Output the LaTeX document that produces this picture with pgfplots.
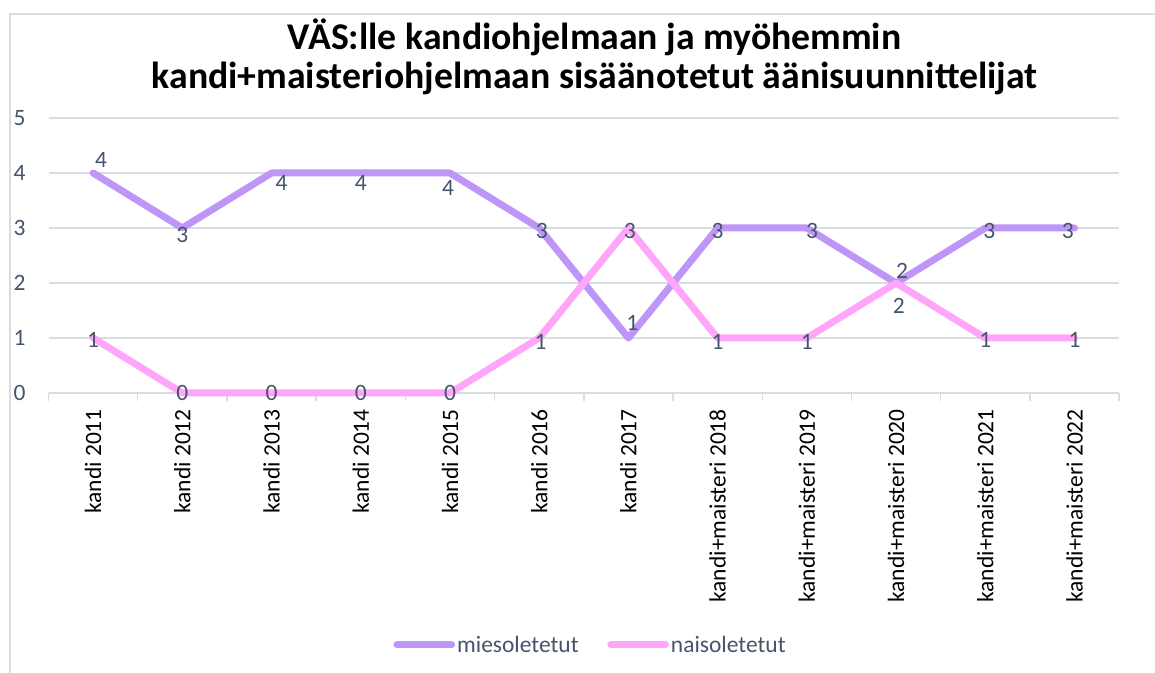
\documentclass[border=0pt]{standalone}
\usepackage{fontspec}
\setmainfont{Carlito}
\usepackage{pgfplots}
\usepackage{pgfplotstable}
\pgfplotsset{compat=1.18}
\definecolor{miesc}{RGB}{190,150,247}
\definecolor{naisc}{RGB}{255,166,250}
\definecolor{gridc}{RGB}{217,220,226}
\definecolor{slate}{RGB}{68,84,106}
\pgfplotstableread{
x y dx dy
0 4 6 10
1 3 0 -5
2 4 7.5 -7.5
3 4 0 -7.5
4 4 -1.5 -11
5 3 2 -2
6 1 3 11
7 3 0 -2
8 3 4 -2
9 2 4.5 9
10 3 3 -2
11 3 -5 -2
}\mies
\pgfplotstableread{
x y dx dy
0 1 0 -1.5
1 0 0 0
2 0 0 0
3 0 0 0
4 0 0 0
5 1 1 -3
6 3 1 -2
7 1 0 -3
8 1 0 -3
9 2 2 -17
10 1 0 -1.5
11 1 0 -1.5
}\nais
\begin{document}
\begin{tikzpicture}
\path[use as bounding box] (0,0) rectangle (866.25pt,504.75pt);
\draw[gridc, line width=1.1pt] (7.5pt,0pt) -- (7.5pt,494.25pt) -- (866.25pt,494.25pt);
\node[anchor=base, font=\fontsize{28.3}{34}\selectfont\bfseries] at (446pt,467.25pt) {VÄS:lle kandiohjelmaan ja myöhemmin};
\node[anchor=base, font=\fontsize{28.3}{34}\selectfont\bfseries] at (446pt,438pt) {kandi+maisteriohjelmaan sisäänotetut äänisuunnittelijat};
\begin{axis}[
  at={(36.4pt,210pt)}, anchor=south west,
  scale only axis, width=802.9pt, height=206.25pt,
  xmin=-0.5, xmax=11.5, ymin=0, ymax=5,
  ytick={0,1,2,3,4,5},
  xtick={0,...,11},
  xticklabels={kandi 2011,kandi 2012,kandi 2013,kandi 2014,kandi 2015,kandi 2016,kandi 2017,kandi+maisteri 2018,kandi+maisteri 2019,kandi+maisteri 2020,kandi+maisteri 2021,kandi+maisteri 2022},
  minor xtick={-0.5,0.5,...,11.5},
  axis x line*=bottom, axis y line*=left,
  y axis line style={draw=none},
  x axis line style={draw=gridc, line width=1.1pt},
  tick align=outside,
  major tick length=0pt, minor tick length=6pt,
  tick style={draw=gridc, line width=1.1pt},
  ytick style={draw=none},
  ymajorgrids, grid style={gridc, line width=1.1pt},
  /pgf/number format/assume math mode=true,
  yticklabel style={font=\fontsize{17.6}{20}\selectfont, text=slate, anchor=east, inner sep=0pt},
  yticklabel shift=17pt,
  xticklabel style={font=\fontsize{17.6}{20}\selectfont, text=black, rotate=90, anchor=east, inner sep=0pt},
  xticklabel shift=12pt,
  clip=false,
  legend columns=2,
  legend style={at={(0.5063,-0.916)}, anchor=center, draw=none, fill=none,
    font=\fontsize{17.6}{20}\selectfont, text=slate,
    nodes={inner sep=1.5pt},
    /tikz/every even column/.append style={column sep=20pt}},
  legend cell align=left,
  legend image code/.code={\draw[#1, line cap=round] (0pt,0pt) -- (41pt,0pt);},
  nodes near coords,
  visualization depends on={\thisrow{dx} \as \dx},
  visualization depends on={\thisrow{dy} \as \dy},
  nodes near coords style={font=\fontsize{17.6}{20}\selectfont, text=slate, anchor=center, inner sep=0pt, xshift=\dx pt, yshift=\dy pt},
]
\addplot[miesc, line width=5.25pt, line join=round, line cap=round, mark=none] table[x=x,y=y] {\mies};
\addlegendentry{miesoletetut}
\addplot[naisc, line width=5.25pt, line join=round, line cap=round, mark=none] table[x=x,y=y] {\nais};
\addlegendentry{naisoletetut}
\end{axis}
\end{tikzpicture}
\end{document}
